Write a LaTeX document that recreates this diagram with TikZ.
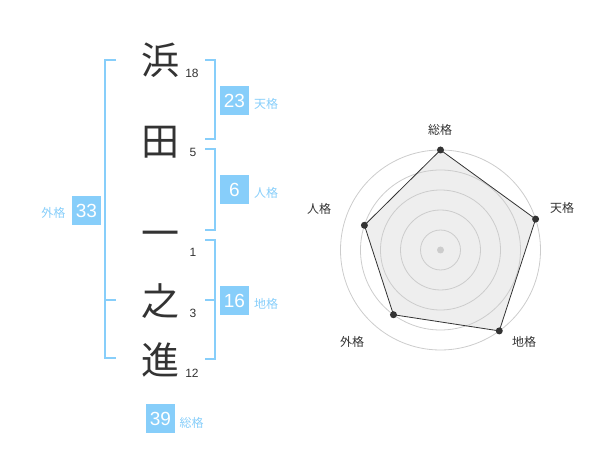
\documentclass[tikz,border=0pt]{standalone}
\usepackage{fontspec}
\setmainfont{Liberation Sans}
\newfontfamily\cjk{Noto Sans CJK JP}
\definecolor{sky}{HTML}{87CEFA}
\definecolor{ink}{HTML}{333333}
\definecolor{ring}{HTML}{CCCCCC}
\definecolor{area}{HTML}{EEEEEE}
\begin{document}
\begin{tikzpicture}[x=1pt,y=-1pt,
  kanji/.style={inner sep=0pt,text=ink,font=\cjk\fontsize{38}{38}\selectfont},
  stroke/.style={inner sep=0pt,text=ink,font=\fontsize{12}{12}\selectfont},
  valbox/.style={fill=sky,text=white,minimum width=29pt,minimum height=29pt,inner sep=0pt,font=\fontsize{19}{19}\selectfont},
  kaku/.style={inner sep=0pt,text=sky,font=\cjk\fontsize{12}{12}\selectfont},
  brk/.style={draw=sky,line width=2pt},
  axislbl/.style={inner sep=0pt,text=ink,font=\cjk\fontsize{12}{12}\selectfont},
  dot/.style={circle,fill=ink,inner sep=0pt,minimum size=7pt}]
\useasboundingbox (0,0) rectangle (600,470);
% kanji
\node[kanji] (k1) at (160,60) {浜};
\node[kanji] (k2) at (160,142) {田};
\node[kanji] (k3) at (160,239) {一};
\node[kanji] (k4) at (160,301) {之};
\node[kanji] (k5) at (160,360) {進};
% stroke counts
\node[stroke] (s1) at (192,73) {18};
\node[stroke] (s2) at (193,152) {5};
\node[stroke] (s3) at (193,252) {1};
\node[stroke] (s4) at (193,313) {3};
\node[stroke] (s5) at (192,373) {12};
% left bracket (gaikaku)
\coordinate (L1) at (116,60);
\coordinate (L2) at (105,60);
\coordinate (L3) at (105,358);
\coordinate (L4) at (116,358);
\coordinate (Lm) at (105,300);
\coordinate (Lm2) at (116,300);
\draw[brk] (L1) -- (L2) -- (L3) -- (L4);
\draw[brk] (Lm) -- (Lm2);
% tenkaku bracket
\coordinate (T1) at (205,60);
\coordinate (T2) at (215,60);
\coordinate (T3) at (215,139);
\coordinate (T4) at (205,139);
\draw[brk] (T1) -- (T2) -- (T3) -- (T4);
% jinkaku bracket
\coordinate (J1) at (205,149);
\coordinate (J2) at (215,149);
\coordinate (J3) at (215,230);
\coordinate (J4) at (205,230);
\draw[brk] (J1) -- (J2) -- (J3) -- (J4);
% chikaku bracket
\coordinate (C1) at (205,240);
\coordinate (C2) at (215,240);
\coordinate (C3) at (215,359);
\coordinate (C4) at (205,359);
\coordinate (Cm) at (205,300);
\coordinate (Cm2) at (215,300);
\draw[brk] (C1) -- (C2) -- (C3) -- (C4);
\draw[brk] (Cm) -- (Cm2);
% value boxes
\node[valbox] (b23) at (234.5,100.5) {23};
\node[kaku] (l23) at (266,104) {天格};
\node[valbox] (b6) at (234.5,190) {6};
\node[kaku] (l6) at (266,193) {人格};
\node[valbox] (b16) at (234.5,300.5) {16};
\node[kaku] (l16) at (266,304) {地格};
\node[valbox] (b33) at (86.5,210.5) {33};
\node[kaku] (l33) at (53.5,213) {外格};
\node[valbox] (b39) at (160.5,418.5) {39};
\node[kaku] (l39) at (191.5,423) {総格};
% radar chart
\begin{scope}[shift={(440.5pt,-250pt)}]
  \coordinate (p1) at (90:100pt);
  \coordinate (p2) at (18:100pt);
  \coordinate (p3) at (-54:100pt);
  \coordinate (p4) at (-126:80pt);
  \coordinate (p5) at (162:80pt);
  \fill[area] (p1) -- (p2) -- (p3) -- (p4) -- (p5) -- cycle;
  \foreach \r in {20,40,60,80,100} \draw[ring,line width=0.8pt] (0,0) circle (\r pt);
  \draw[ink,line width=0.8pt] (p1) -- (p2) -- (p3) -- (p4) -- (p5) -- cycle;
  \node[circle,fill=ring,inner sep=0pt,minimum size=7pt] (ctr) at (0,0) {};
  \node[dot] (d1) at (p1) {};
  \node[dot] (d2) at (p2) {};
  \node[dot] (d3) at (p3) {};
  \node[dot] (d4) at (p4) {};
  \node[dot] (d5) at (p5) {};
\end{scope}
\node[axislbl] (a1) at (440,130) {総格};
\node[axislbl] (a2) at (562,208) {天格};
\node[axislbl] (a3) at (524,342) {地格};
\node[axislbl] (a4) at (352,342) {外格};
\node[axislbl] (a5) at (319,209) {人格};
\end{tikzpicture}
\end{document}
